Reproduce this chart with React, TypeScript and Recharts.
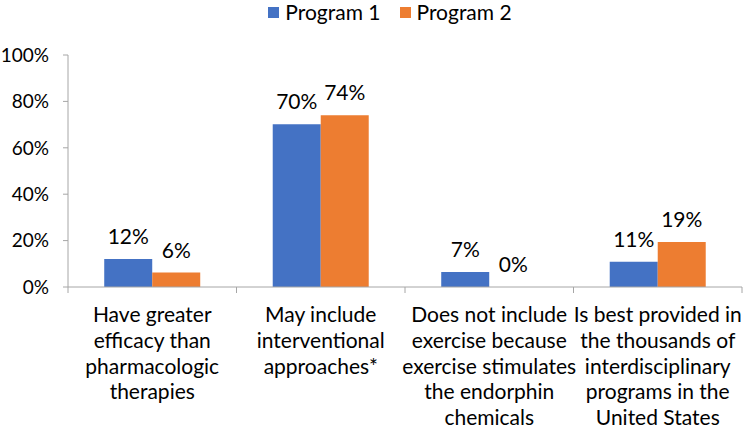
import React from "react";
import { BarChart, Bar, XAxis, YAxis, Legend, LabelList } from "recharts";

if (typeof document !== "undefined") {
  document.body.style.margin = "0";
}

const categories = [
  "Have greater\nefficacy than\npharmacologic\ntherapies",
  "May include\ninterventional\napproaches*",
  "Does not include\nexercise because\nexercise stimulates\nthe endorphin\nchemicals",
  "Is best provided in\nthe thousands of\ninterdisciplinary\nprograms in the\nUnited States",
];
const program1 = [12.1, 70.1, 6.5, 10.9];
const program2 = [6.2, 74.0, 0, 19.4];
const yTicks = [0, 20, 40, 60, 80, 100];
const seriesNames = ["Program 1", "Program 2"];

const data = categories.map((c, i) => ({ name: c, p1: program1[i], p2: program2[i] }));

const FONT = "Lato, Carlito, Calibri, sans-serif";
const FS = 21;
const BLUE = "#4472C4";
const ORANGE = "#ED7D31";
const AXIS = "#A6A6A6";

const CategoryTick = (props: any) => {
  const { x, y, payload, index, visibleTicksCount } = props;
  const half = payload && payload.offset ? payload.offset : 84.25;
  const lines = String(payload.value).split("\n");
  const last = index === (visibleTicksCount ?? categories.length) - 1;
  return (
    <g>
      <line x1={x - half} x2={x - half} y1={y} y2={y + 6} stroke={AXIS} strokeWidth={1} />
      {last && <line x1={x + half} x2={x + half} y1={y} y2={y + 6} stroke={AXIS} strokeWidth={1} />}
      <text x={x} y={y + 35} textAnchor="middle" fill="#000" fontFamily={FONT} fontSize={FS}>
        {lines.map((l, i) => (
          <tspan key={i} x={x} dy={i === 0 ? 0 : 25.8}>
            {l}
          </tspan>
        ))}
      </text>
    </g>
  );
};

const LegendContent = () => (
  <div
    style={{
      display: "flex",
      justifyContent: "center",
      alignItems: "center",
      fontFamily: FONT,
      fontSize: FS,
      color: "#000",
      paddingLeft: 36,
      lineHeight: "24px",
    }}
  >
    {seriesNames.map((n, i) => (
      <div key={n} style={{ display: "flex", alignItems: "center", marginLeft: i === 0 ? 0 : 19 }}>
        <span
          style={{
            display: "inline-block",
            width: 11,
            height: 11,
            background: i === 0 ? BLUE : ORANGE,
            marginRight: 6,
          }}
        />
        <span>{n}</span>
      </div>
    ))}
  </div>
);

const fmt = (v: any) => `${Math.round(Number(v))}%`;

export default function App() {
  return (
    <BarChart
      width={744}
      height={430}
      data={data}
      margin={{ top: 55, right: 2, bottom: 0, left: 0 }}
      barCategoryGap="21.5%"
      barGap={0}
    >
      <Legend
        verticalAlign="middle"
        align="center"
        content={<LegendContent />}
        wrapperStyle={{ top: 0, left: 0, width: 744 }}
      />
      <XAxis
        dataKey="name"
        height={143}
        interval={0}
        axisLine={{ stroke: AXIS }}
        tickLine={false}
        tickSize={0}
        tickMargin={0}
        tick={<CategoryTick />}
      />
      <YAxis
        width={68}
        domain={[0, 100]}
        ticks={yTicks}
        interval={0}
        tickFormatter={(v: number) => `${v}%`}
        axisLine={{ stroke: AXIS }}
        tickLine={{ stroke: AXIS }}
        tickSize={5}
        tickMargin={14}
        tick={{ fill: "#000", fontFamily: FONT, fontSize: 19 }}
      />
      <Bar dataKey="p1" name={seriesNames[0]} fill={BLUE} minPointSize={0.01} isAnimationActive={false}>
        <LabelList
          dataKey="p1"
          position="top"
          offset={15}
          formatter={fmt}
          style={{ fill: "#000", fontFamily: FONT, fontSize: FS }}
        />
      </Bar>
      <Bar dataKey="p2" name={seriesNames[1]} fill={ORANGE} minPointSize={0.01} isAnimationActive={false}>
        <LabelList
          dataKey="p2"
          position="top"
          offset={15}
          formatter={fmt}
          style={{ fill: "#000", fontFamily: FONT, fontSize: FS }}
        />
      </Bar>
    </BarChart>
  );
}
